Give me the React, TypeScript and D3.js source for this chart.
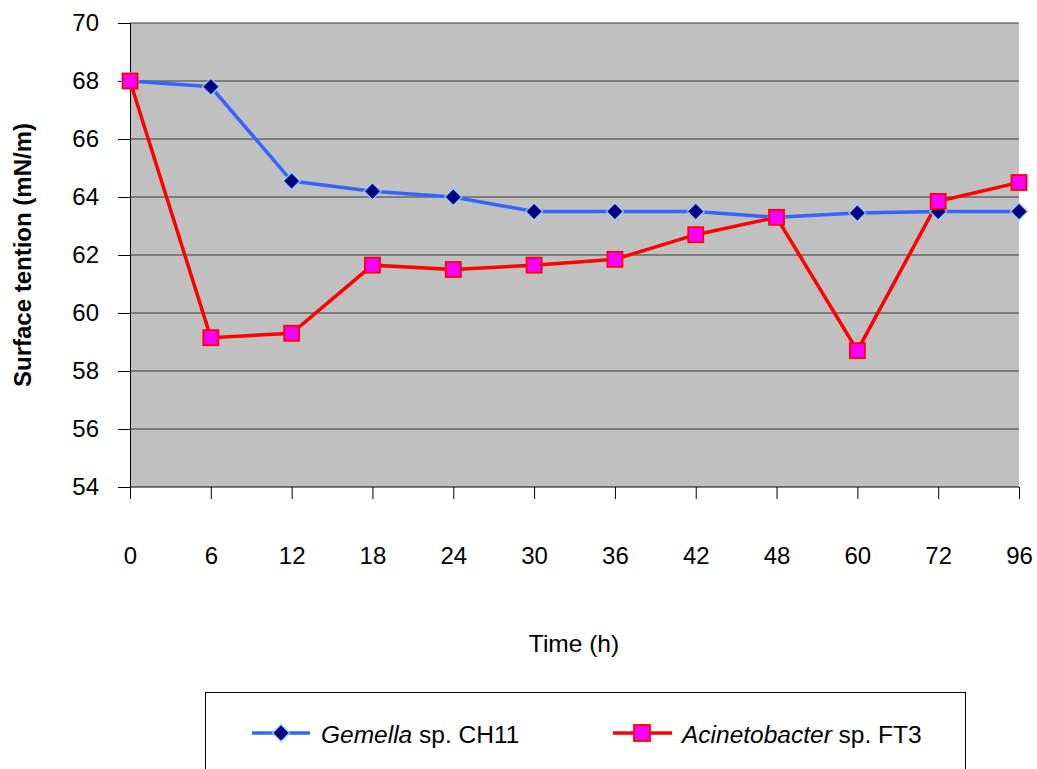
import React from "react";
import * as d3 from "d3";

const hours = ["0", "6", "12", "18", "24", "30", "36", "42", "48", "60", "72", "96"];
const gemella = [68, 67.8, 64.55, 64.2, 64, 63.5, 63.5, 63.5, 63.3, 63.45, 63.5, 63.5];
const acineto = [68, 59.15, 59.3, 61.65, 61.5, 61.65, 61.85, 62.7, 63.3, 58.7, 63.85, 64.5];
const yTicks = [54, 56, 58, 60, 62, 64, 66, 68, 70];

const W = 1037;
const H = 769;
const FONT = "'Liberation Sans', Arial, sans-serif";
const FS = 24;

const App = () => {
  const svgRef = React.useRef<SVGSVGElement>(null);

  React.useEffect(() => {
    const svg = d3.select(svgRef.current);
    svg.selectAll("*").remove();

    const x = d3.scalePoint().domain(hours).range([130, 1019]);
    const y = d3.scaleLinear().domain([54, 70]).range([487, 23]);

    // plot background
    svg
      .append("rect")
      .attr("x", 130)
      .attr("y", y(70))
      .attr("width", 1019 - 130)
      .attr("height", y(54) - y(70))
      .attr("fill", "#c0c0c0");

    // gridlines
    svg
      .append("g")
      .selectAll("line")
      .data(yTicks.filter((t) => t > 54))
      .join("line")
      .attr("x1", 130)
      .attr("x2", 1019)
      .attr("y1", (d: number) => y(d))
      .attr("y2", (d: number) => y(d))
      .attr("stroke", "#3a3a3a")
      .attr("stroke-width", 1);

    // y axis
    const yAxis = svg
      .append("g")
      .attr("transform", "translate(130,0)")
      .call(d3.axisLeft(y).tickValues(yTicks).tickSize(12).tickPadding(19));
    yAxis.select(".domain").attr("stroke", "#000");
    yAxis.selectAll(".tick line").attr("stroke", "#000");
    yAxis
      .selectAll(".tick text")
      .attr("font-family", FONT)
      .attr("font-size", FS)
      .attr("fill", "#000");

    // x axis
    const xAxis = svg
      .append("g")
      .attr("transform", `translate(0,${y(54)})`)
      .call(d3.axisBottom(x).tickSize(12));
    xAxis.select(".domain").attr("d", `M130,0H1019`).attr("stroke", "#000");
    xAxis.selectAll(".tick line").attr("stroke", "#000");
    xAxis
      .selectAll(".tick text")
      .attr("y", 77)
      .attr("dy", null)
      .attr("font-family", FONT)
      .attr("font-size", FS)
      .attr("fill", "#000");

    // axis titles
    svg
      .append("text")
      .attr("transform", `translate(31,${(y(54) + y(70)) / 2}) rotate(-90)`)
      .attr("text-anchor", "middle")
      .attr("font-family", FONT)
      .attr("font-weight", "bold")
      .attr("font-size", FS)
      .text("Surface tention (mN/m)");

    svg
      .append("text")
      .attr("x", 574)
      .attr("y", 652)
      .attr("text-anchor", "middle")
      .attr("font-family", FONT)
      .attr("font-size", FS + 0.5)
      .text("Time (h)");

    const line = d3
      .line<number>()
      .x((_d: number, i: number) => x(hours[i]) as number);

    // Gemella series
    svg
      .append("path")
      .datum(gemella)
      .attr("d", line.y((d: number) => y(d)))
      .attr("fill", "none")
      .attr("stroke", "#3366ff")
      .attr("stroke-width", 3.5);

    // Acinetobacter series
    svg
      .append("path")
      .datum(acineto)
      .attr("d", line.y((d: number) => y(d)))
      .attr("fill", "none")
      .attr("stroke", "#ff0000")
      .attr("stroke-width", 3.5);

    const diamond = (cx: number, cy: number, r: number) =>
      `M${cx},${cy - r}L${cx + r},${cy}L${cx},${cy + r}L${cx - r},${cy}Z`;

    svg
      .append("g")
      .selectAll("path")
      .data(gemella)
      .join("path")
      .attr("d", (d: number, i: number) => diamond(x(hours[i]) as number, y(d), 8.5))
      .attr("fill", "#000080")
      .attr("stroke", "#99ccff")
      .attr("stroke-width", 1.3);

    svg
      .append("g")
      .selectAll("rect")
      .data(acineto)
      .join("rect")
      .attr("x", (_d: number, i: number) => (x(hours[i]) as number) - 7.5)
      .attr("y", (d: number) => y(d) - 7.5)
      .attr("width", 15)
      .attr("height", 15)
      .attr("fill", "#ff00ff")
      .attr("stroke", "#ff0000")
      .attr("stroke-width", 1.8);

    // legend
    svg
      .append("rect")
      .attr("x", 205.5)
      .attr("y", 692.5)
      .attr("width", 760)
      .attr("height", 100)
      .attr("fill", "#fff")
      .attr("stroke", "#000")
      .attr("stroke-width", 1);

    const ly = 733;
    const lg1 = svg.append("g");
    lg1
      .append("line")
      .attr("x1", 252)
      .attr("x2", 310)
      .attr("y1", ly)
      .attr("y2", ly)
      .attr("stroke", "#3366ff")
      .attr("stroke-width", 3.5);
    lg1
      .append("path")
      .attr("d", diamond(281, ly, 8.5))
      .attr("fill", "#000080")
      .attr("stroke", "#99ccff")
      .attr("stroke-width", 1.3);
    const t1 = lg1
      .append("text")
      .attr("x", 321)
      .attr("y", 743)
      .attr("font-family", FONT)
      .attr("font-size", FS + 0.5);
    t1.append("tspan").attr("font-style", "italic").text("Gemella");
    t1.append("tspan").text(" sp. CH11");

    const lg2 = svg.append("g");
    lg2
      .append("line")
      .attr("x1", 613)
      .attr("x2", 672)
      .attr("y1", ly)
      .attr("y2", ly)
      .attr("stroke", "#ff0000")
      .attr("stroke-width", 3.5);
    lg2
      .append("rect")
      .attr("x", 634)
      .attr("y", ly - 8)
      .attr("width", 16)
      .attr("height", 16)
      .attr("fill", "#ff00ff")
      .attr("stroke", "#ff0000")
      .attr("stroke-width", 1.8);
    const t2 = lg2
      .append("text")
      .attr("x", 682)
      .attr("y", 743)
      .attr("font-family", FONT)
      .attr("font-size", FS + 0.5);
    t2.append("tspan").attr("font-style", "italic").text("Acinetobacter");
    t2.append("tspan").text(" sp. FT3");
  }, []);

  return (
    <svg
      ref={svgRef}
      width={W}
      height={H}
      style={{ position: "absolute", left: 0, top: 0, background: "#fff" }}
    />
  );
};

export default App;
